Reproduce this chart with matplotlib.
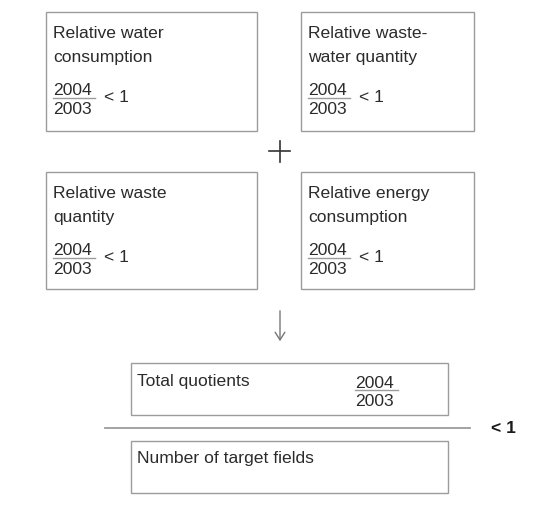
import matplotlib
matplotlib.use("Agg")
import matplotlib.pyplot as plt
from matplotlib.patches import Rectangle

# content
box_labels = [
    ["Relative water", "consumption"],
    ["Relative waste-", "water quantity"],
    ["Relative waste", "quantity"],
    ["Relative energy", "consumption"],
]
numerator = "2004"
denominator = "2003"
compare_text = "< 1"
total_label = "Total quotients"
fields_label = "Number of target fields"

W, H = 543, 509
TEXT = "#2b2b2b"
EDGE = "#9c9c9c"
FS = 12.6

plt.rcParams["font.family"] = ["Liberation Sans", "DejaVu Sans"]
fig = plt.figure(figsize=(W / 100, H / 100), dpi=100)
ax = fig.add_axes([0, 0, 1, 1])
ax.set_xlim(0, W)
ax.set_ylim(H, 0)
ax.axis("off")


def box(x0, y0, x1, y1):
    ax.add_patch(Rectangle((x0, y0), x1 - x0, y1 - y0, fill=False,
                           edgecolor=EDGE, linewidth=1.0))


def txt(x, y, s, **kw):
    ax.text(x, y, s, fontsize=FS, color=TEXT, ha="left", va="baseline", **kw)


def fraction(x, y_line, width=42):
    # y_line = position of the fraction bar
    txt(x, y_line - 2.5, numerator)
    ax.plot([x, x + width], [y_line, y_line], color=EDGE, lw=1.0)
    txt(x, y_line + 16, denominator)


# four small boxes
slots = [(46, 12, 257, 131), (301, 12, 474, 131),
         (46, 172, 257, 289), (301, 172, 474, 289)]
for label, (x0, y0, x1, y1) in zip(box_labels, slots):
    box(x0, y0, x1, y1)
    for i, line in enumerate(label):
        txt(x0 + 7, y0 + 26 + 24 * i, line)
    fraction(x0 + 7, y0 + 85.5)
    txt(x0 + 58, y0 + 90, compare_text)

# plus sign
ax.plot([269, 290], [151, 151], color="#333333", lw=1.2)
ax.plot([279.5, 279.5], [140.5, 161.5], color="#333333", lw=1.2)

# arrow
ax.annotate("", xy=(280, 344), xytext=(280, 308),
            arrowprops=dict(arrowstyle="->,head_length=0.55,head_width=0.35",
                            color="#777777", lw=1.0))

# total quotient box
box(131, 363, 448, 415)
txt(137, 386, total_label)
fraction(355, 390, width=43)

# division line
ax.plot([105, 470], [428, 428], color=EDGE, lw=1.3)
ax.text(491, 433, compare_text, fontsize=FS, color="#1a1a1a",
        fontweight="bold", ha="left", va="baseline")

# target fields box
box(131, 441, 448, 493)
txt(137, 463, fields_label)

fig.savefig("out.png", dpi=100, facecolor="white")
